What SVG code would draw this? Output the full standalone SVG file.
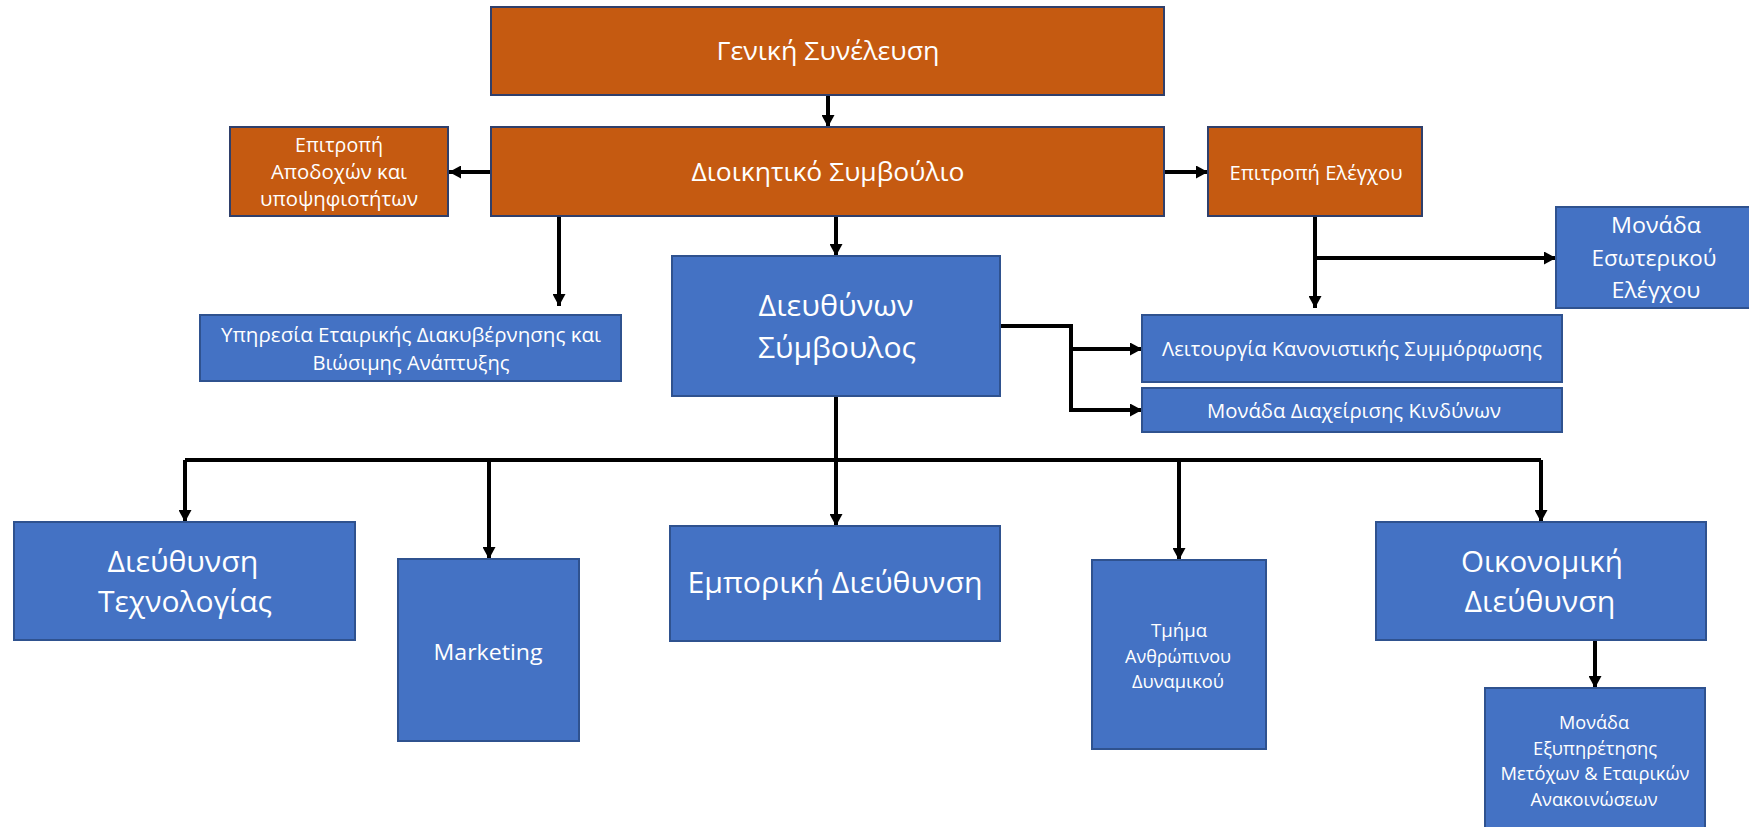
<svg xmlns="http://www.w3.org/2000/svg" width="1749" height="827" viewBox="0 0 1749 827">
<style>
.or{fill:#C55A11;stroke:#2F3F6B;stroke-width:2}
.bl{fill:#4472C4;stroke:#2F528F;stroke-width:2}
text{font-family:"Open Sans","Noto Sans","DejaVu Sans",sans-serif;fill:#fff;text-anchor:middle}
.c{fill:none;stroke:#000;stroke-width:4}
.a{marker-end:url(#ah)}
</style>
<defs>
<marker id="ah" markerUnits="userSpaceOnUse" markerWidth="13" markerHeight="13" refX="12" refY="6.5" orient="auto" viewBox="0 0 13 13">
<path d="M0,0 L12,6.5 L0,13 z" fill="#000"/>
</marker>
</defs>
<g id="connectors">
<path class="c a" d="M828,95 L828,127"/>
<path class="c a" d="M491,172 L449,172"/>
<path class="c a" d="M1164,172 L1208,172"/>
<path class="c a" d="M559,216 L559,306"/>
<path class="c a" d="M836,216 L836,256"/>
<path class="c a" d="M1315,216 L1315,308"/>
<path class="c a" d="M1315,258 L1556,258"/>
<path class="c a" d="M1000,326 L1071,326 L1071,410 L1142,410"/>
<path class="c a" d="M1071,349 L1142,349"/>
<path class="c a" d="M836,396 L836,526"/>
<path class="c" d="M185,460 L1541,460"/>
<path class="c a" d="M185,460 L185,522"/>
<path class="c a" d="M489,460 L489,559"/>
<path class="c a" d="M1179,460 L1179,560"/>
<path class="c a" d="M1541,460 L1541,522"/>
<path class="c a" d="M1595,640 L1595,688"/>
</g>
<g id="n-geniki">
<rect class="or" x="491" y="7" width="673" height="88"/>
<text x="828" y="60" font-size="26" textLength="223" lengthAdjust="spacingAndGlyphs">Γενική Συνέλευση</text>
</g>
<g id="n-dioikitiko">
<rect class="or" x="491" y="127" width="673" height="89"/>
<text x="828" y="181" font-size="26" textLength="273" lengthAdjust="spacingAndGlyphs">Διοικητικό Συμβούλιο</text>
</g>
<g id="n-apodoxon">
<rect class="or" x="230" y="127" width="218" height="89"/>
<text x="339" y="152" font-size="19.5" textLength="88" lengthAdjust="spacingAndGlyphs">Επιτροπή</text>
<text x="339" y="179" font-size="19.5" textLength="136" lengthAdjust="spacingAndGlyphs">Αποδοχών και</text>
<text x="339" y="206" font-size="19.5" textLength="158" lengthAdjust="spacingAndGlyphs">υποψηφιοτήτων</text>
</g>
<g id="n-elegxou">
<rect class="or" x="1208" y="127" width="214" height="89"/>
<text x="1316" y="180" font-size="19.5" textLength="173" lengthAdjust="spacingAndGlyphs">Επιτροπή Ελέγχου</text>
</g>
<g id="n-ypiresia">
<rect class="bl" x="200" y="315" width="421" height="66"/>
<text x="411" y="342" font-size="19.5" textLength="380" lengthAdjust="spacingAndGlyphs">Υπηρεσία Εταιρικής Διακυβέρνησης και</text>
<text x="411" y="370" font-size="19.5" textLength="197" lengthAdjust="spacingAndGlyphs">Βιώσιμης Ανάπτυξης</text>
</g>
<g id="n-ceo">
<rect class="bl" x="672" y="256" width="328" height="140"/>
<text x="836" y="316" font-size="30" textLength="155" lengthAdjust="spacingAndGlyphs">Διευθύνων</text>
<text x="837" y="358" font-size="30" textLength="158" lengthAdjust="spacingAndGlyphs">Σύμβουλος</text>
</g>
<g id="n-esoterikou">
<rect class="bl" x="1556" y="207" width="200" height="101"/>
<text x="1656" y="233" font-size="22.5" textLength="90" lengthAdjust="spacingAndGlyphs">Μονάδα</text>
<text x="1654" y="266" font-size="22.5" textLength="125" lengthAdjust="spacingAndGlyphs">Εσωτερικού</text>
<text x="1656" y="298" font-size="22.5" textLength="89" lengthAdjust="spacingAndGlyphs">Ελέγχου</text>
</g>
<g id="n-symmorfosis">
<rect class="bl" x="1142" y="315" width="420" height="67"/>
<text x="1352" y="356" font-size="19.5" textLength="380" lengthAdjust="spacingAndGlyphs">Λειτουργία Κανονιστικής Συμμόρφωσης</text>
</g>
<g id="n-kindynon">
<rect class="bl" x="1142" y="388" width="420" height="44"/>
<text x="1354" y="418" font-size="19.5" textLength="294" lengthAdjust="spacingAndGlyphs">Μονάδα Διαχείρισης Κινδύνων</text>
</g>
<g id="n-texnologias">
<rect class="bl" x="14" y="522" width="341" height="118"/>
<text x="183" y="572" font-size="30" textLength="151" lengthAdjust="spacingAndGlyphs">Διεύθυνση</text>
<text x="185" y="612" font-size="30" textLength="174" lengthAdjust="spacingAndGlyphs">Τεχνολογίας</text>
</g>
<g id="n-marketing">
<rect class="bl" x="398" y="559" width="181" height="182"/>
<text x="488" y="660" font-size="22.5" textLength="109" lengthAdjust="spacingAndGlyphs">Marketing</text>
</g>
<g id="n-emporiki">
<rect class="bl" x="670" y="526" width="330" height="115"/>
<text x="835" y="593" font-size="30" textLength="295" lengthAdjust="spacingAndGlyphs">Εμπορική Διεύθυνση</text>
</g>
<g id="n-anthropinou">
<rect class="bl" x="1092" y="560" width="174" height="189"/>
<text x="1179" y="637" font-size="18.5" textLength="56" lengthAdjust="spacingAndGlyphs">Τμήμα</text>
<text x="1178" y="663" font-size="18.5" textLength="106" lengthAdjust="spacingAndGlyphs">Ανθρώπινου</text>
<text x="1178" y="688" font-size="18.5" textLength="92" lengthAdjust="spacingAndGlyphs">Δυναμικού</text>
</g>
<g id="n-oikonomiki">
<rect class="bl" x="1376" y="522" width="330" height="118"/>
<text x="1542" y="572" font-size="30" textLength="162" lengthAdjust="spacingAndGlyphs">Οικονομική</text>
<text x="1540" y="612" font-size="30" textLength="151" lengthAdjust="spacingAndGlyphs">Διεύθυνση</text>
</g>
<g id="n-metoxon">
<rect class="bl" x="1485" y="688" width="220" height="150"/>
<text x="1594" y="729" font-size="18.5" textLength="70" lengthAdjust="spacingAndGlyphs">Μονάδα</text>
<text x="1595" y="755" font-size="18.5" textLength="124" lengthAdjust="spacingAndGlyphs">Εξυπηρέτησης</text>
<text x="1595" y="780" font-size="18.5" textLength="189" lengthAdjust="spacingAndGlyphs">Μετόχων &amp; Εταιρικών</text>
<text x="1594" y="806" font-size="18.5" textLength="127" lengthAdjust="spacingAndGlyphs">Ανακοινώσεων</text>
</g>
</svg>
